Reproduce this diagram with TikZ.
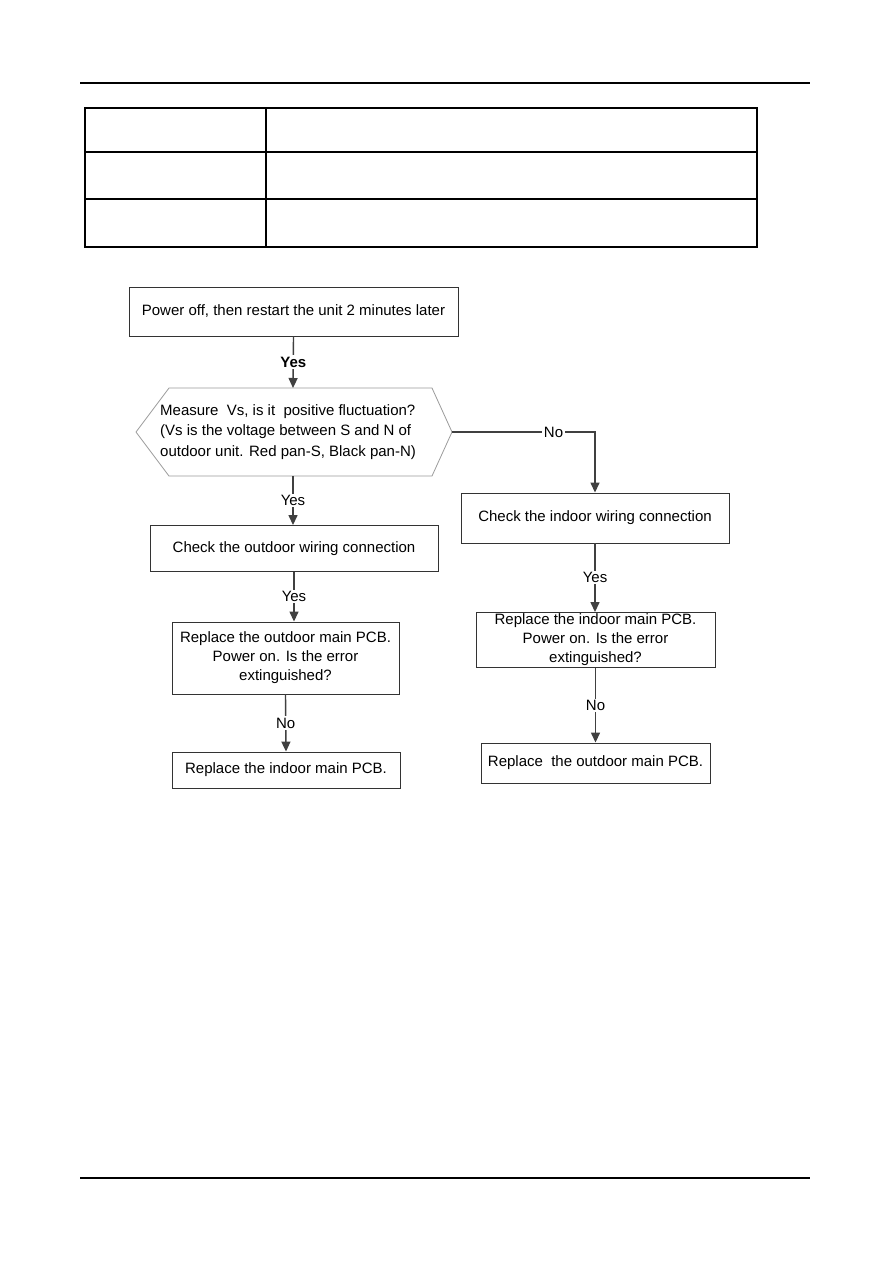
\documentclass[tikz,border=0pt]{standalone}
\usepackage{fontspec}
\setmainfont{Liberation Sans}
\usepackage{xcolor}
\usepackage{tikz}
\usetikzlibrary{arrows.meta}
\definecolor{flowline}{HTML}{404040}
\definecolor{flowedge}{HTML}{333333}
\definecolor{hexedge}{HTML}{9A9A9A}

\begin{document}
\begin{tikzpicture}[x=1pt,y=-1pt,
  box/.style={draw=flowedge,line width=0.9pt,align=center,inner sep=0pt,font=\fontsize{15}{19}\selectfont},
  arr/.style={-{Triangle[length=10pt,width=9pt]},flowline,line width=1.4pt},
  lbl/.style={fill=white,inner sep=1.5pt,text=black,font=\fontsize{15}{18}\selectfont},
  rule/.style={line width=1.3pt,black}
]
\useasboundingbox (0,0) rectangle (893,1263);
% page frame and table
\draw[rule] (80,83) -- (810,83);
\draw[rule] (80,1178) -- (810,1178);
\draw[line width=1.3pt] (85,108) rectangle (757,247);
\draw[line width=1.3pt] (85,152) -- (757,152);
\draw[line width=1.3pt] (85,199) -- (757,199);
\draw[line width=1.3pt] (266,108) -- (266,247);
% left branch
\node[box,minimum width=329pt,minimum height=49pt] (pwr) at (293.5,311.5) {Power off, then restart the unit 2 minutes later};
\draw[hexedge,line width=0.8pt] (136,432) -- (169,388) -- (432,388) -- (452,432) -- (432,476) -- (169,476) -- cycle;
\coordinate (hexN) at (293,388);
\coordinate (hexS) at (293,476);
\coordinate (hexE) at (452,432);
\node[align=left,anchor=west,inner sep=0pt,font=\fontsize{15}{20.5}\selectfont] (meas) at (160,432)
  {Measure\ \ Vs, is it\ \ positive fluctuation?\\(Vs is the voltage between S and N of\\outdoor unit. Red pan-S, Black pan-N)};
\node[box,minimum width=288pt,minimum height=46pt] (odwire) at (294,548.5) {Check the outdoor wiring connection};
\node[box,minimum width=227pt,minimum height=72pt] (odpcb) at (285.5,658) {Replace the outdoor main PCB.\\Power on. Is the error\\extinguished?};
\node[box,minimum width=228pt,minimum height=36pt] (idrep) at (286,770) {Replace the indoor main PCB.};
% right branch
\node[box,minimum width=268pt,minimum height=50pt] (idwire) at (595,518) {Check the indoor wiring connection};
\node[box,minimum width=239pt,minimum height=55pt] (idpcb) at (595.5,640) {Replace the indoor main PCB.\\Power on. Is the error\\extinguished?};
\node[box,minimum width=229pt,minimum height=40pt] (odrep) at (595.5,763) {Replace\ \ the outdoor main PCB.};
% connectors
\draw[arr] (pwr.south) -- node[lbl,font=\fontsize{15}{18}\selectfont\bfseries] {Yes} (hexN);
\draw[arr] (hexS) -- node[lbl] {Yes} (hexS |- odwire.north);
\draw[arr] (odwire.south) -- node[lbl] {Yes} (odwire.south |- odpcb.north);
\draw[arr] (odpcb.south) -- node[lbl] {No} (idrep.north);
\draw[arr] (hexE) -- node[lbl,pos=0.71] {No} (idwire.north |- hexE) -- (idwire.north);
\draw[arr] (idwire.south) -- node[lbl] {Yes} (idwire.south |- idpcb.north);
\draw[arr] (idpcb.south) -- node[lbl] {No} (idpcb.south |- odrep.north);
\end{tikzpicture}
\end{document}
